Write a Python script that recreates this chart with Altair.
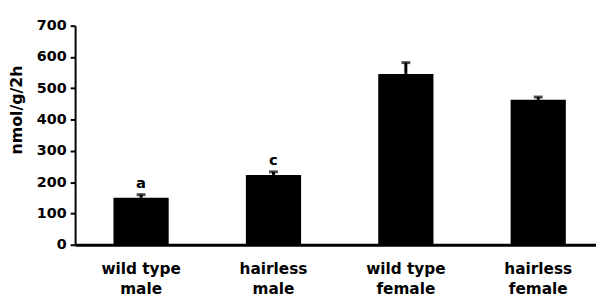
import altair as alt
import pandas as pd

groups = ["wild type\nmale", "hairless\nmale", "wild type\nfemale", "hairless\nfemale"]
means = [150, 223, 546, 463]
err_top = [160, 233, 582, 472]
letters = ["a", "c", "", ""]
y_ticks = [0, 100, 200, 300, 400, 500, 600, 700]

df = pd.DataFrame({"group": groups, "mean": means, "err": err_top, "letter": letters})

FONT = "DejaVu Sans"

x_axis = alt.Axis(
    title=None,
    labelAngle=0,
    ticks=False,
    domainColor="black",
    domainWidth=3,
    labelFont=FONT,
    labelFontWeight="bold",
    labelFontSize=15.5,
    labelColor="black",
    labelPadding=17,
    labelLineHeight=20,
    labelExpr="split(datum.label, '\\n')",
)
x_scale = alt.Scale(paddingInner=0.583, paddingOuter=0.259, align=0.56)

y_axis = alt.Axis(
    title="nmol/g/2h",
    values=y_ticks,
    tickCount=8,
    grid=False,
    labelOverlap=False,
    domainColor="black",
    domainWidth=2,
    tickColor="black",
    tickWidth=2,
    tickSize=5,
    labelFont=FONT,
    labelFontWeight="bold",
    labelFontSize=14.5,
    labelColor="black",
    labelPadding=4,
    titleFont=FONT,
    titleFontWeight="bold",
    titleFontSize=16,
    titleColor="black",
    titleX=-51,
    titleY=85,
    titleAlign="center",
    titleBaseline="bottom",
)
y_scale = alt.Scale(domain=[0, 700], nice=False)


def X():
    return alt.X("group:N", sort=None, scale=x_scale, axis=x_axis)


def Y(field):
    return alt.Y(field, scale=y_scale, axis=y_axis)


base = alt.Chart(df)

bars = base.mark_bar(color="black").encode(x=X(), y=Y("mean:Q"))

stems = base.mark_rule(color="black", strokeWidth=3).encode(
    x=X(), y=Y("mean:Q"), y2="err:Q"
)

caps = base.mark_tick(color="black", size=9, thickness=3).encode(
    x=X(), y=Y("err:Q")
)

text = base.mark_text(
    font=FONT, fontWeight="bold", fontSize=15, color="black",
    baseline="alphabetic", dy=-7
).encode(x=X(), y=Y("err:Q"), text="letter:N")

chart = (
    alt.layer(bars, stems, caps, text)
    .properties(
        width=528,
        height=222,
        autosize=alt.AutoSizeParams(type="none"),
        padding={"left": 68, "top": 16, "right": 0, "bottom": 50},
        background="white",
    )
    .configure_view(stroke=None)
)

chart.save("out.html", embed_options={"renderer": "svg", "actions": False})
